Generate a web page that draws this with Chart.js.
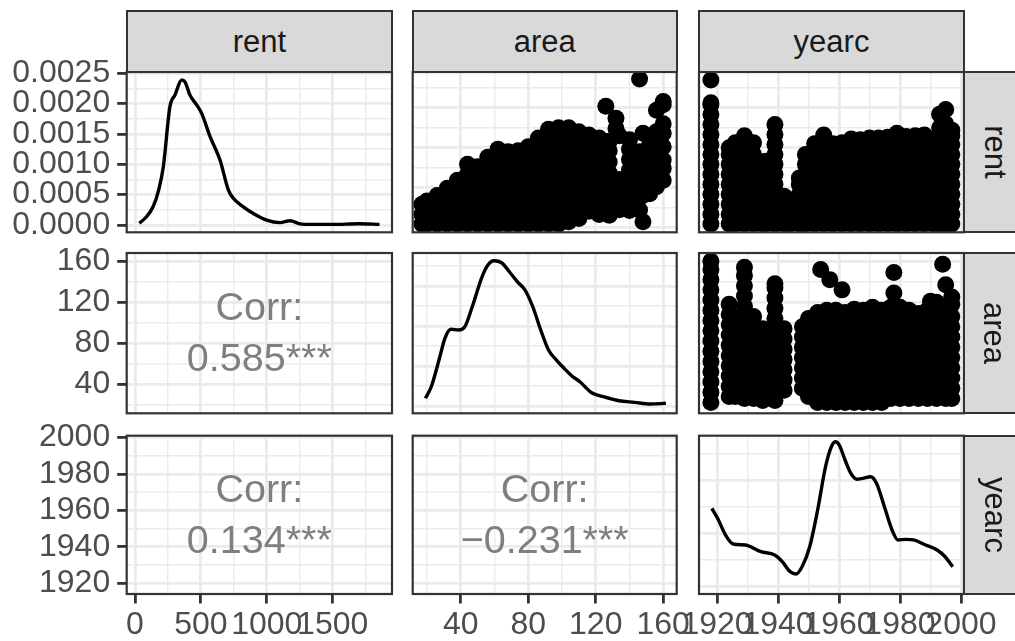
<!DOCTYPE html>
<html>
<head>
<meta charset="utf-8">
<script src="https://cdn.jsdelivr.net/npm/chart.js@4.4.1/dist/chart.umd.min.js"></script>
<style>
  body { margin: 0; background: #fff; width: 1015px; height: 641px; overflow: hidden; position: relative;
         font-family: 'Liberation Sans', Arial, Helvetica, sans-serif; }
  canvas { position: absolute; left: 0; top: 0; }
  .strip { position: absolute; background: #D9D9D9; border: 2px solid #333333; box-sizing: border-box;
           color: #1A1A1A; font-size: 31px; display: flex; align-items: center; justify-content: center; z-index: 2; }
  .strip span { white-space: nowrap; }
  .strip.side span { transform: rotate(90deg); }
</style>
</head>
<body>
<script>
// variables of the pairs plot
const vars = ['rent', 'area', 'yearc'];

// axis breaks
const rentBreaks = [0, 500, 1000, 1500];
const rentMinor = [250, 750, 1250, 1750];
const areaBreaks = [40, 80, 120, 160];
const areaMinor = [20, 60, 100, 140];
const yearBreaks = [1920, 1940, 1960, 1980, 2000];
const yearMinor = [1930, 1950, 1970, 1990];
const rentDensBreaks = [0, 0.0005, 0.001, 0.0015, 0.002, 0.0025];
const rentDensMinor = [0.00025, 0.00075, 0.00125, 0.00175, 0.00225];
const areaDensBreaks = [0, 0.005, 0.01, 0.015];
const areaDensMinor = [0.0025, 0.0075, 0.0125, 0.0175];
const yearDensBreaks = [0, 0.01, 0.02];
const yearDensMinor = [0.005, 0.015, 0.025];

// kernel density curves on the diagonal
const rentGrid = [33, 80, 137, 180, 215, 265, 303, 354, 379, 417, 468, 506, 569, 645, 708, 746, 822, 898, 999, 1100, 1176, 1252, 1330, 1500, 1700, 1855];
const rentDens = [0.00003, 0.00012, 0.0003, 0.00058, 0.00096, 0.00195, 0.00214, 0.00239, 0.00236, 0.00214, 0.00198, 0.00184, 0.00146, 0.00107, 0.00058, 0.00044, 0.0003, 0.00019, 0.00008, 0.00004, 0.00007, 0.00002, 0.00001, 0.00001, 0.00002, 0.00001];
const areaGrid = [19.0, 22.5, 27.1, 30.6, 34.1, 38.7, 42.2, 46.8, 52.6, 56.1, 59.6, 64.2, 68.8, 73.5, 78.1, 82.7, 87.4, 92.0, 96.7, 101.3, 105.9, 110.6, 117.6, 124.5, 133.7, 143.0, 152.3, 161.6];
const areaDens = [0.00096, 0.00241, 0.00575, 0.00846, 0.00959, 0.0095, 0.00984, 0.01241, 0.01616, 0.01763, 0.01816, 0.01791, 0.01679, 0.01554, 0.0145, 0.01241, 0.0095, 0.007, 0.00575, 0.00471, 0.00375, 0.00304, 0.00166, 0.00116, 0.00066, 0.00046, 0.00025, 0.00034];
const yearGrid = [1918.3, 1920.2, 1922.8, 1925.3, 1929.2, 1934.4, 1938.9, 1941.4, 1944.0, 1945.9, 1947.9, 1950.4, 1953.0, 1955.6, 1957.5, 1958.8, 1960.1, 1962.0, 1963.9, 1965.9, 1967.8, 1970.4, 1972.3, 1974.9, 1977.4, 1979.3, 1981.9, 1984.5, 1988.4, 1992.2, 1994.8, 1997.3];
const yearDens = [0.0147, 0.01283, 0.0097, 0.00802, 0.00783, 0.00658, 0.00595, 0.0047, 0.00283, 0.0024, 0.00376, 0.00751, 0.01438, 0.02249, 0.02623, 0.02717, 0.02655, 0.02375, 0.02125, 0.02013, 0.02032, 0.02061, 0.01939, 0.015, 0.01064, 0.00877, 0.00889, 0.00877, 0.00783, 0.00689, 0.00563, 0.00376];

// scatter observations, grouped as [x, [y, y, ...]]
const areaRentCols = [
  [17, [40, 165, 290]],
  [20, [40, 165, 290, 330]],
  [26, [40, 165, 290, 400]],
  [32, [40, 165, 290, 415, 490]],
  [38, [40, 165, 290, 415, 540, 590]],
  [44, [40, 165, 290, 415, 540, 665, 790]],
  [50, [40, 165, 290, 415, 540, 665, 760]],
  [56, [40, 165, 290, 415, 540, 665, 790, 880]],
  [62, [40, 165, 290, 415, 540, 665, 790, 915, 980]],
  [68, [40, 165, 290, 415, 540, 665, 790, 915, 950]],
  [74, [40, 165, 290, 415, 540, 665, 790, 915, 960]],
  [80, [40, 165, 290, 415, 540, 665, 790, 915, 1010]],
  [86, [40, 165, 290, 415, 540, 665, 790, 915, 1040, 1120]],
  [92, [40, 165, 290, 415, 540, 665, 790, 915, 1040, 1165, 1230]],
  [98, [40, 165, 290, 415, 540, 665, 790, 915, 1040, 1165, 1250]],
  [104, [70, 165, 290, 415, 540, 665, 790, 915, 1040, 1165, 1250]],
  [110, [110, 240, 365, 490, 615, 740, 865, 990, 1115, 1200]],
  [116, [200, 320, 440, 560, 680, 800, 920, 1040, 1160]],
  [122, [160, 280, 400, 520, 640, 760, 880, 1000, 1120]],
  [126, [1520]],
  [128, [150, 300, 440, 560, 680, 820, 960, 1080]],
  [132, [1240, 1370]],
  [134, [220, 360, 480, 600, 1150]],
  [140, [210, 330, 460, 590, 720, 850, 980, 1100]],
  [146, [217, 380, 520, 650, 800, 950, 1862]],
  [148, [70, 400, 560, 700, 1180]],
  [152, [420, 600, 780, 900, 1050]],
  [156, [510, 700, 850, 1000, 1200, 1470]],
  [160, [590, 740, 845, 1012, 1180, 1300, 1540, 1580]]
];

const yearRentCols = [
  [1918, [40, 165, 290, 415, 540, 665, 790, 915, 1040, 1165, 1290, 1415, 1540, 1565, 1850]],
  [1924, [40, 165, 290, 415, 540, 665, 790, 915, 1000]],
  [1926, [40, 165, 290, 415, 540, 665, 790, 915, 1060]],
  [1929, [40, 165, 290, 415, 540, 665, 790, 915, 1040, 1150]],
  [1932, [40, 165, 290, 415, 540, 665, 790, 915, 1060]],
  [1935, [40, 165, 290, 415, 540, 640]],
  [1936, [40, 165, 290, 415, 540, 665, 790, 830]],
  [1939, [40, 165, 290, 415, 540, 665, 790, 915, 1040, 1165, 1290]],
  [1942, [40, 165, 290, 390]],
  [1944, [40, 165, 280]],
  [1947, [40, 165, 290, 415, 540, 620]],
  [1949, [40, 165, 290, 415, 540, 665, 790, 915]],
  [1952, [40, 165, 290, 415, 540, 665, 790, 915, 1050]],
  [1955, [40, 165, 290, 415, 540, 665, 790, 915, 1040, 1160]],
  [1958, [40, 165, 290, 415, 540, 665, 790, 915, 1050]],
  [1961, [40, 165, 290, 415, 540, 665, 790, 915, 1060]],
  [1964, [40, 165, 290, 415, 540, 665, 790, 915, 1040, 1110]],
  [1967, [40, 165, 290, 415, 540, 665, 790, 915, 1040, 1100]],
  [1970, [40, 165, 290, 415, 540, 665, 790, 915, 1040, 1120]],
  [1973, [40, 165, 290, 415, 540, 665, 790, 915, 1040, 1120]],
  [1976, [40, 165, 290, 415, 540, 665, 790, 915, 1040, 1130]],
  [1979, [40, 165, 290, 415, 540, 665, 790, 915, 1040, 1180]],
  [1982, [40, 165, 290, 415, 540, 665, 790, 915, 1040, 1140]],
  [1985, [40, 165, 290, 415, 540, 665, 790, 915, 1040, 1150]],
  [1988, [40, 165, 290, 415, 540, 665, 790, 915, 1040, 1160]],
  [1991, [40, 165, 290, 415, 540, 665, 790, 915, 1040, 1100]],
  [1993, [40, 165, 290, 415, 540, 665, 790, 915, 1040, 1250, 1420]],
  [1995, [40, 165, 290, 415, 540, 665, 790, 915, 1040, 1165, 1300, 1480]],
  [1997, [40, 165, 290, 415, 540, 665, 790, 915, 1040, 1150, 1220]]
];

const yearAreaCols = [
  [1918, [22, 32, 42, 52, 62, 72, 82, 92, 102, 112, 122, 132, 142, 152, 160]],
  [1924, [28, 38, 48, 58, 68, 78, 88, 98, 108, 118]],
  [1926, [28, 38, 48, 58, 68, 78, 88, 98, 105]],
  [1929, [26, 36, 46, 56, 66, 76, 86, 96, 106, 116, 126, 136, 146, 154]],
  [1932, [26, 36, 46, 56, 66, 76, 86, 96, 106]],
  [1935, [24, 34, 44, 54, 64, 74, 84, 94]],
  [1939, [24, 34, 44, 54, 64, 74, 84, 94, 104, 114, 124, 134, 138]],
  [1942, [34, 44, 54, 64, 74, 84, 94]],
  [1948, [36, 46, 56, 66, 76, 86, 96]],
  [1950, [28, 38, 48, 58, 68, 78, 88, 98, 104]],
  [1953, [22, 32, 42, 52, 62, 72, 82, 92, 102, 110]],
  [1954, [152]],
  [1956, [22, 32, 42, 52, 62, 72, 82, 92, 102, 112]],
  [1957, [142]],
  [1959, [22, 32, 42, 52, 62, 72, 82, 92, 102, 112]],
  [1961, [132]],
  [1962, [22, 32, 42, 52, 62, 72, 82, 92, 102, 110]],
  [1965, [22, 32, 42, 52, 62, 72, 82, 92, 102, 113]],
  [1968, [22, 32, 42, 52, 62, 72, 82, 92, 102, 112]],
  [1971, [22, 32, 42, 52, 62, 72, 82, 92, 102, 115]],
  [1974, [22, 32, 42, 52, 62, 72, 82, 92, 102, 112]],
  [1977, [26, 36, 46, 56, 66, 76, 86, 96, 106, 115]],
  [1978, [129, 149]],
  [1980, [26, 36, 46, 56, 66, 76, 86, 96, 106, 115]],
  [1983, [26, 36, 46, 56, 66, 76, 86, 96, 106, 112]],
  [1986, [26, 36, 46, 56, 66, 76, 86, 96, 106, 109]],
  [1989, [26, 36, 46, 56, 66, 76, 86, 96, 106, 112]],
  [1990, [121]],
  [1992, [26, 36, 46, 56, 66, 76, 86, 96, 106, 120]],
  [1994, [157]],
  [1995, [26, 36, 46, 56, 66, 76, 86, 96, 106, 115, 137]],
  [1997, [26, 36, 46, 56, 66, 76, 86, 96, 106, 118, 125]]
];

// correlations in the lower triangle
const corrValues = [0.585, 0.134, -0.231];
const corrStars = ['***', '***', '***'];
const corrCells = [[1, 0], [2, 0], [2, 1]];

// ---- layout of the panel grid ----
const W = 1015, H = 641;
const colX = [[126.7, 392], [412.7, 676.7], [699, 964]];
const rowY = [[72, 232.3], [253, 413.3], [435.7, 594]];
const FONT = "'Liberation Sans', Arial, Helvetica, sans-serif";

const num = v => String(v);
const axisSpec = {
  rent:      { lim: [-63, 1950], major: rentBreaks, minor: rentMinor, fmt: num },
  area:      { lim: [11.5, 168], major: areaBreaks, minor: areaMinor, fmt: num },
  yearc:     { lim: [1914.1, 2001], major: yearBreaks, minor: yearMinor, fmt: num },
  rentDens:  { lim: [-0.00012, 0.002521], major: rentDensBreaks, minor: rentDensMinor, fmt: v => v.toFixed(4) },
  areaDens:  { lim: [-0.00091, 0.01913], major: areaDensBreaks, minor: areaDensMinor, fmt: v => v.toFixed(3) },
  yearcDens: { lim: [-0.00135, 0.0283], major: yearDensBreaks, minor: yearDensMinor, fmt: v => v.toFixed(2) }
};

const densityLines = { rent: [rentGrid, rentDens], area: [areaGrid, areaDens], yearc: [yearGrid, yearDens] };
const scatterCols = { '0,1': areaRentCols, '0,2': yearRentCols, '1,2': yearAreaCols };

function toPoints(cols) {
  return cols.flatMap(([x, ys]) => ys.map(y => ({ x: x, y: y })));
}
function toLine(xs, ys) {
  return xs.map((x, i) => ({ x: x, y: ys[i] }));
}

function scaleOpts(ax, labelled, isX, size) {
  return {
    type: 'linear',
    bounds: 'data',
    min: ax.lim[0],
    max: ax.lim[1],
    afterBuildTicks: s => {
      s.ticks = ax.major.map(v => ({ value: v, maj: true }))
        .concat(ax.minor.map(v => ({ value: v, maj: false })))
        .sort((a, b) => a.value - b.value);
    },
    afterFit: s => { if (isX) s.height = size; else s.width = size; },
    border: { display: false },
    grid: {
      color: '#EBEBEB',
      lineWidth: c => (c.tick && c.tick.maj ? 2.8 : 1.4),
      drawTicks: labelled,
      tickLength: 9.5,
      tickWidth: 2.8,
      tickColor: c => (c.tick && c.tick.maj ? '#333333' : 'rgba(0,0,0,0)')
    },
    ticks: {
      display: labelled,
      autoSkip: false,
      maxRotation: 0,
      minRotation: 0,
      padding: isX ? 2 : 7,
      color: '#4D4D4D',
      font: { family: FONT, size: 32 },
      callback: (v, i, t) => (t[i] && t[i].maj ? ax.fmt(v) : '')
    }
  };
}

// dark frame around each panel
const panelBorder = {
  id: 'panelBorder',
  afterDraw(chart) {
    const a = chart.chartArea, ctx = chart.ctx;
    ctx.save();
    ctx.strokeStyle = '#333333';
    ctx.lineWidth = 2.2;
    ctx.strokeRect(a.left, a.top, a.right - a.left, a.bottom - a.top);
    ctx.restore();
  }
};

function corrLabel(k) {
  const v = corrValues[k];
  const txt = (v < 0 ? '\u2212' : '') + Math.abs(v).toFixed(3) + corrStars[k];
  return {
    id: 'corrLabel',
    afterDraw(chart) {
      const a = chart.chartArea, ctx = chart.ctx;
      const cx = (a.left + a.right) / 2, cy = (a.top + a.bottom) / 2;
      ctx.save();
      ctx.fillStyle = '#7F7F7F';
      ctx.font = '39.5px ' + FONT;
      ctx.textAlign = 'center';
      ctx.textBaseline = 'middle';
      ctx.fillText('Corr:', cx, cy - 24);
      ctx.fillText(txt, cx, cy + 27);
      ctx.restore();
    }
  };
}

for (let r = 0; r < 3; r++) {
  for (let c = 0; c < 3; c++) {
    const [L, R] = colX[c];
    const [T, B] = rowY[r];
    const leftAxis = c === 0, bottomAxis = r === 2;
    const xAx = axisSpec[vars[c]];
    const yAx = axisSpec[r === c ? vars[r] + 'Dens' : vars[r]];

    const datasets = [];
    const plugins = [panelBorder];
    if (r === c) {
      const [xs, ys] = densityLines[vars[r]];
      datasets.push({
        data: toLine(xs, ys), showLine: true, pointRadius: 0, borderColor: '#000000',
        borderWidth: 3.4, cubicInterpolationMode: 'monotone', fill: false, clip: 0
      });
    } else if (r < c) {
      datasets.push({
        data: toPoints(scatterCols[r + ',' + c]), pointRadius: 8.5, pointHoverRadius: 8.5,
        pointBackgroundColor: '#000000', pointBorderWidth: 0, showLine: false, clip: 0
      });
    } else {
      const k = corrCells.findIndex(p => p[0] === r && p[1] === c);
      plugins.push(corrLabel(k));
    }

    const cv = document.createElement('canvas');
    cv.width = W; cv.height = H;
    document.body.appendChild(cv);

    new Chart(cv, {
      type: 'scatter',
      data: { datasets: datasets },
      options: {
        responsive: false,
        animation: false,
        events: [],
        layout: {
          autoPadding: false,
          padding: { left: leftAxis ? 0 : L, right: W - R, top: T, bottom: bottomAxis ? 0 : H - B }
        },
        scales: {
          x: scaleOpts(xAx, bottomAxis, true, bottomAxis ? H - B : 0),
          y: scaleOpts(yAx, leftAxis, false, leftAxis ? L : 0)
        },
        plugins: { legend: { display: false }, tooltip: { enabled: false } }
      },
      plugins: plugins
    });
  }
}

// facet strips
vars.forEach((v, i) => {
  const top = document.createElement('div');
  top.className = 'strip';
  top.style.left = (colX[i][0] - 1) + 'px';
  top.style.top = '10px';
  top.style.width = (colX[i][1] - colX[i][0] + 2) + 'px';
  top.style.height = '63px';
  top.innerHTML = '<span>' + v + '</span>';
  document.body.appendChild(top);

  const side = document.createElement('div');
  side.className = 'strip side';
  side.style.left = '963px';
  side.style.top = (rowY[i][0] - 1) + 'px';
  side.style.width = '63px';
  side.style.height = (rowY[i][1] - rowY[i][0] + 2) + 'px';
  side.innerHTML = '<span>' + v + '</span>';
  document.body.appendChild(side);
});
</script>
</body>
</html>
